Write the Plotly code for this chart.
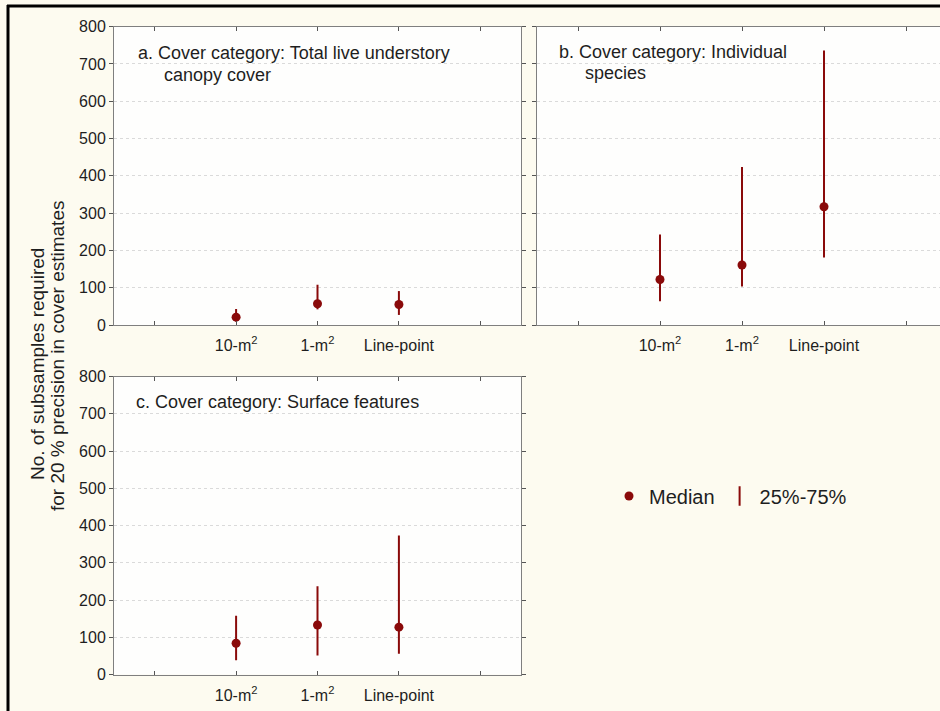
import plotly.graph_objects as go

# Sampling methods on the x axis
methods = ["10-m<sup>2</sup>", "1-m<sup>2</sup>", "Line-point"]

# Subsamples required (median and interquartile range) per cover category
a_median = [21, 57, 55]
a_q25 = [9, 42, 27]
a_q75 = [43, 108, 91]

b_median = [122, 161, 317]
b_q25 = [64, 103, 181]
b_q75 = [243, 424, 736]

c_median = [84, 133, 127]
c_q25 = [38, 51, 56]
c_q75 = [158, 237, 373]

panel_titles = [
    ["a. Cover category: Total live understory", "canopy cover"],
    ["b. Cover category: Individual", "species"],
    ["c. Cover category: Surface features"],
]
y_title = ["No. of subsamples required", "for 20 % precision in cover estimates"]
y_ticks = [0, 100, 200, 300, 400, 500, 600, 700, 800]

W, H = 940, 711
FONT = "Liberation Sans, Arial, sans-serif"
RED = "#8a0a0a"
PAPER = "#fdfbf0"

fig = go.Figure()

x_pos = [i + 1 for i in range(len(methods))]
series = [
    (a_median, a_q25, a_q75, "x", "y"),
    (b_median, b_q25, b_q75, "x2", "y2"),
    (c_median, c_q25, c_q75, "x3", "y3"),
]
for med, lo, hi, xa, ya in series:
    fig.add_trace(go.Scatter(
        x=x_pos, y=med, xaxis=xa, yaxis=ya, mode="markers",
        marker=dict(color=RED, size=9),
        error_y=dict(type="data", symmetric=False,
                     array=[h - m for h, m in zip(hi, med)],
                     arrayminus=[m - l for m, l in zip(med, lo)],
                     width=0, thickness=2, color=RED),
        showlegend=False, hoverinfo="skip"))

# Legend entries
fig.add_trace(go.Scatter(x=[None], y=[None], mode="markers", name="Median",
                         marker=dict(color=RED, size=9)))
fig.add_trace(go.Scatter(x=[None], y=[None], mode="markers", name="25%-75%",
                         marker=dict(color=RED, symbol="line-ns", size=14,
                                     line=dict(color=RED, width=2))))


def px_x(v):
    return v / W


def px_y(v):
    return 1 - v / H


tick_text = [""] + methods + [""]
common_x = dict(tickmode="array", tickvals=[0, 1, 2, 3, 4], ticktext=tick_text,
                showgrid=False, zeroline=False, showline=True, linecolor="#7f7f7f",
                linewidth=1, mirror="ticks", ticks="inside", ticklen=4,
                tickcolor="#555", ticklabelstandoff=6, automargin=False,
                tickfont=dict(family=FONT, size=16, color="#1e1e1e"))
common_y = dict(range=[0, 800], tickmode="array", tickvals=y_ticks,
                showgrid=True, gridcolor="#dadada", griddash="dot", gridwidth=1,
                zeroline=False, showline=True, linecolor="#7f7f7f", linewidth=1,
                ticks="outside", ticklen=4, tickcolor="#555",
                automargin=False,
                tickfont=dict(family=FONT, size=16, color="#1e1e1e"))

fig.update_layout(
    width=W, height=H,
    margin=dict(l=0, r=0, t=0, b=0, autoexpand=False),
    paper_bgcolor=PAPER, plot_bgcolor="#fefefd",
    font=dict(family=FONT, color="#1e1e1e"),
    xaxis=dict(domain=[px_x(114), px_x(521)], range=[-0.5, 4.5], anchor="y", **common_x),
    yaxis=dict(domain=[px_y(325), px_y(26.7)], anchor="x", mirror="ticks", **common_y),
    # panel b runs off the right edge of the page, so no right-hand frame
    xaxis2=dict(domain=[px_x(537), 1.0], range=[-0.5, -0.5 + (940 - 537) / 82.0],
                anchor="y2", **common_x),
    yaxis2=dict(domain=[px_y(325), px_y(26.7)], anchor="x2", showticklabels=False,
                mirror=False, **common_y),
    xaxis3=dict(domain=[px_x(114), px_x(521)], range=[-0.5, 4.5], anchor="y3", **common_x),
    yaxis3=dict(domain=[px_y(674.5), px_y(376.5)], anchor="x3", mirror="ticks", **common_y),
    legend=dict(orientation="h", x=px_x(609), xanchor="left", y=px_y(496),
                yanchor="middle", bgcolor="rgba(0,0,0,0)",
                font=dict(family=FONT, size=20, color="#1e1e1e"),
                itemsizing="trace"),
)

annotations = []
# Panel labels
title_pos = [
    [(136, 53), (162, 75)],
    [(557, 52), (583, 73)],
    [(134, 402)],
]
for lines, pos in zip(panel_titles, title_pos):
    for text, (x, y) in zip(lines, pos):
        annotations.append(dict(text=text, x=px_x(x), y=px_y(y), xref="paper", yref="paper",
                                xanchor="left", yanchor="middle", showarrow=False,
                                font=dict(family=FONT, size=18, color="#1e1e1e")))
# Shared y-axis title (two lines)
for text, (x, y) in zip(y_title, [(37, 364), (57, 356)]):
    annotations.append(dict(text=text, x=px_x(x), y=px_y(y), xref="paper", yref="paper",
                            xanchor="center", yanchor="middle", textangle=-90,
                            showarrow=False,
                            font=dict(family=FONT, size=19, color="#1e1e1e")))
fig.update_layout(annotations=annotations)

# Black frame along the top and left edges
fig.add_shape(type="line", xref="paper", yref="paper", x0=px_x(8), x1=px_x(8),
              y0=0, y1=px_y(5), line=dict(color="black", width=3))
fig.add_shape(type="line", xref="paper", yref="paper", x0=px_x(7), x1=1,
              y0=px_y(6), y1=px_y(6), line=dict(color="black", width=3))

fig.write_html("out.html")
